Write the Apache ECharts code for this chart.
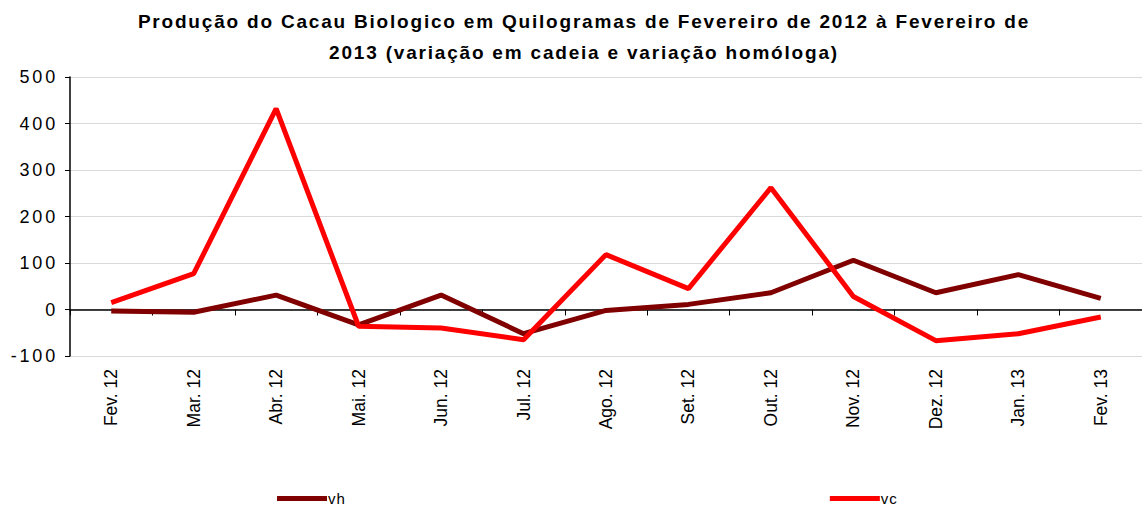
<!DOCTYPE html>
<html><head><meta charset="utf-8">
<script src="https://cdn.jsdelivr.net/npm/echarts@6/dist/echarts.min.js"></script>
<style>html,body{margin:0;padding:0;background:#fff}#c{width:1142px;height:506px;overflow:hidden}</style>
</head><body><div id="c"></div>
<script>
var categories = ['Fev. 12','Mar. 12','Abr. 12','Mai. 12','Jun. 12','Jul. 12','Ago. 12','Set. 12','Out. 12','Nov. 12','Dez. 12','Jan. 13','Fev. 13'];
var vh = [-3, -6, 31, -33, 31, -52, -2, 11, 36, 106, 36, 75, 24];
var vc = [15, 77, 432, -36, -40, -65, 118, 45, 262, 28, -67, -52, -16];
var yTicks = [-100, 0, 100, 200, 300, 400, 500];
var seriesNames = ['vh', 'vc'];
var titleText = 'Produção do Cacau Biologico em Quilogramas de Fevereiro de 2012 à Fevereiro de\n2013 (variação em cadeia e variação homóloga)';

var chart = echarts.init(document.getElementById('c'), null, {renderer: 'svg'});
var font = 'Arial, "Liberation Sans", sans-serif';
chart.setOption({
  animation: false,
  textStyle: {fontFamily: font},
  title: {
    text: titleText, left: 579, textAlign: 'center', top: 1,
    textStyle: {fontFamily: font, fontSize: 19, fontWeight: 'bold', color: '#000', lineHeight: 31}
  },
  legend: {
    bottom: -5, left: 272, itemGap: 486, itemWidth: 50, itemHeight: 5, icon: 'rect',
    textStyle: {fontFamily: font, fontSize: 15, color: '#000', padding: [0,0,0,-4]},
    data: seriesNames
  },
  grid: {left: 70, right: -9, top: 77, bottom: 150},
  xAxis: [{
    type: 'category', data: categories, position: 'bottom', boundaryGap: true,
    axisLine: {show: false, onZero: false}, axisTick: {show: false},
    axisLabel: {rotate: 90, fontSize: 17.5, color: '#000', fontFamily: font, margin: 13}
  }, {
    type: 'category', data: categories, position: 'bottom', boundaryGap: true,
    axisLine: {show: true, onZero: true, lineStyle: {color: '#000', width: 1.5}},
    axisTick: {show: true, inside: false, length: 6, lineStyle: {color: '#000'}},
    axisLabel: {show: false}
  }],
  yAxis: {
    type: 'value', min: yTicks[0], max: yTicks[yTicks.length-1], interval: 100,
    axisLine: {show: true, lineStyle: {color: '#000', width: 1.5}},
    axisTick: {show: true, length: 5, lineStyle: {color: '#000'}},
    axisLabel: {fontSize: 18, color: '#000', fontFamily: font, margin: 12},
    splitLine: {show: true, lineStyle: {color: '#d9d9d9', width: 1}}
  },
  series: [{
    name: seriesNames[0], type: 'line', data: vh, xAxisIndex: 0, symbol: 'none',
    lineStyle: {color: '#800000', width: 5}, itemStyle: {color: '#800000'}, z: 3
  }, {
    name: seriesNames[1], type: 'line', data: vc, xAxisIndex: 0, symbol: 'none',
    lineStyle: {color: '#ff0000', width: 5}, itemStyle: {color: '#ff0000'}, z: 4
  }]
});

// The reference text is horizontally stretched; approximate with letter spacing on horizontal texts.
function spaceText() {
  var nodes = document.querySelectorAll('#c text');
  for (var i = 0; i < nodes.length; i++) {
    var t = nodes[i], s = t.textContent;
    if (categories.indexOf(s) >= 0) continue;
    var sp = '2.8px';
    if (seriesNames.indexOf(s) >= 0) sp = '1px';
    else if (s.length > 20) sp = '1.8px';
    t.style.letterSpacing = sp;
  }
}
spaceText();
chart.on('finished', spaceText);
</script></body></html>
